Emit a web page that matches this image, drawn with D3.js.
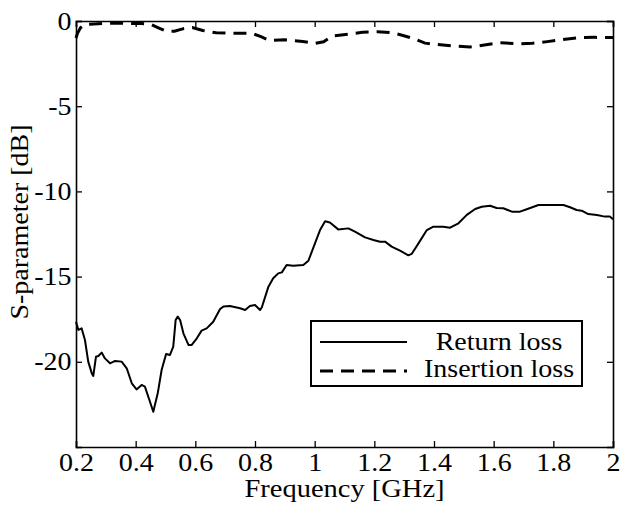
<!DOCTYPE html>
<html>
<head>
<meta charset="utf-8">
<script src="https://cdn.jsdelivr.net/npm/d3@7/dist/d3.min.js"></script>
<style>
  body { margin: 0; background: #fff; }
  text { font-family: "Liberation Serif", "Times New Roman", "DejaVu Serif", serif; fill: #000; }
</style>
</head>
<body>
<div id="chart"></div>
<script>
// return loss (solid)
var freqReturn = [0.2, 0.208, 0.219, 0.23, 0.241, 0.253, 0.258, 0.267, 0.275, 0.286, 0.297, 0.314,
  0.331, 0.353, 0.37, 0.387, 0.403, 0.42, 0.431, 0.446, 0.459, 0.474, 0.487, 0.502, 0.515, 0.526,
  0.534, 0.541, 0.549, 0.56, 0.577, 0.588, 0.605, 0.621, 0.638, 0.66, 0.683, 0.694, 0.716, 0.75,
  0.767, 0.783, 0.8, 0.817, 0.823, 0.845, 0.861, 0.878, 0.89, 0.906, 0.928, 0.962, 0.979, 1.001,
  1.018, 1.035, 1.051, 1.079, 1.113, 1.135, 1.169, 1.197, 1.219, 1.236, 1.258, 1.286, 1.314, 1.325,
  1.348, 1.376, 1.398, 1.431, 1.454, 1.482, 1.51, 1.538, 1.56, 1.588, 1.61, 1.632, 1.661, 1.688,
  1.711, 1.75, 1.789, 1.834, 1.856, 1.878, 1.895, 1.917, 1.946, 1.973, 1.99, 2.0];
var returnLoss = [-17.65, -18.13, -18.04, -18.72, -19.99, -20.68, -20.83, -19.7, -19.66, -19.46, -19.8, -20.09,
  -19.95, -19.99, -20.38, -21.26, -21.62, -21.36, -21.46, -22.24, -22.93, -21.85, -20.48, -19.54, -19.6, -19.11,
  -17.55, -17.35, -17.55, -18.33, -19.01, -19.01, -18.62, -18.17, -18.04, -17.65, -16.9, -16.76, -16.73, -16.86,
  -16.96, -16.73, -16.67, -16.96, -16.8, -15.59, -15.1, -14.81, -14.75, -14.32, -14.36, -14.32, -14.07, -13.05,
  -12.27, -11.75, -11.83, -12.23, -12.17, -12.36, -12.7, -12.85, -12.95, -12.95, -13.24, -13.48, -13.75, -13.67,
  -13.05, -12.27, -12.07, -12.07, -12.13, -11.87, -11.38, -11.03, -10.9, -10.84, -10.97, -10.99, -11.19, -11.19,
  -11.05, -10.8, -10.8, -10.8, -10.93, -11.09, -11.13, -11.33, -11.38, -11.48, -11.48, -11.64];

// insertion loss (dashed)
var freqInsertion = [0.2, 0.205, 0.215, 0.23, 0.26, 0.3, 0.34, 0.38, 0.42, 0.45, 0.48, 0.505, 0.53,
  0.56, 0.59, 0.625, 0.67, 0.72, 0.79, 0.82, 0.85, 0.9, 0.96, 1.0, 1.03, 1.06, 1.12, 1.16, 1.21, 1.26,
  1.29, 1.33, 1.37, 1.41, 1.46, 1.52, 1.58, 1.62, 1.68, 1.73, 1.78, 1.84, 1.89, 1.94, 2.0];
var insertionLoss = [-1.0, -0.72, -0.4, -0.2, -0.18, -0.14, -0.12, -0.14, -0.15, -0.2, -0.43, -0.62, -0.6,
  -0.45, -0.38, -0.56, -0.69, -0.72, -0.72, -0.92, -1.15, -1.1, -1.2, -1.32, -1.22, -0.88, -0.76, -0.66, -0.63, -0.69,
  -0.82, -1.02, -1.3, -1.38, -1.46, -1.53, -1.38, -1.27, -1.34, -1.31, -1.21, -1.07, -0.97, -0.96, -0.97];

var xTicks = [0.2, 0.4, 0.6, 0.8, 1, 1.2, 1.4, 1.6, 1.8, 2];
var yTicks = [0, -5, -10, -15, -20];
var legendLabels = ["Return loss", "Insertion loss"];

var width = 622,
  height = 508,
  plotLeft = 76,
  plotRight = 613,
  plotTop = 21,
  plotBottom = 447,
  stretch = 1.12; // the scanned type is a bit wider than Times

var svg = d3
  .select("#chart")
  .append("svg")
  .attr("width", width)
  .attr("height", height);

svg.append("rect").attr("width", width).attr("height", height).attr("fill", "#fff");

var x = d3.scaleLinear().domain([0.2, 2]).range([plotLeft, plotRight]);
var y = d3.scaleLinear().domain([-25, 0]).range([plotBottom, plotTop]);

//axes with inward ticks on all four sides
var fmt = function(d) { return String(d); };

var gx = svg
  .append("g")
  .attr("transform", "translate(0," + plotBottom + ")")
  .call(d3.axisBottom(x).tickValues(xTicks).tickSize(-6).tickPadding(6).tickFormat(fmt));

var gy = svg
  .append("g")
  .attr("transform", "translate(" + plotLeft + ",0)")
  .call(d3.axisLeft(y).tickValues(yTicks).tickSize(-6).tickPadding(4).tickFormat(fmt));

var gt = svg
  .append("g")
  .attr("transform", "translate(0," + plotTop + ")")
  .call(d3.axisTop(x).tickValues(xTicks).tickSize(-6).tickFormat(""));

var gr = svg
  .append("g")
  .attr("transform", "translate(" + plotRight + ",0)")
  .call(d3.axisRight(y).tickValues(yTicks).tickSize(-6).tickFormat(""));

[gx, gy, gt, gr].forEach(function(g) {
  g.attr("font-family", null);
  g.select(".domain").attr("stroke", "#000").attr("stroke-width", 1.6);
  g.selectAll(".tick line").attr("stroke", "#000").attr("stroke-width", 1.3);
  g.selectAll(".tick text")
    .style("font-size", "25px")
    .attr("fill", "#000")
    .attr("transform", "scale(" + stretch + ",1)");
});

//curves
var line = d3
  .line()
  .x(function(d) { return x(d[0]); })
  .y(function(d) { return y(d[1]); });

svg
  .append("path")
  .datum(d3.zip(freqReturn, returnLoss))
  .attr("fill", "none")
  .attr("stroke", "#000")
  .attr("stroke-width", 2)
  .attr("stroke-linejoin", "round")
  .attr("d", line);

svg
  .append("path")
  .datum(d3.zip(freqInsertion, insertionLoss))
  .attr("fill", "none")
  .attr("stroke", "#000")
  .attr("stroke-width", 3)
  .attr("stroke-dasharray", "13,8")
  .attr("d", line);

//axis titles
svg
  .append("text")
  .attr("transform", "translate(" + (plotLeft + plotRight) / 2 + ",497) scale(" + (stretch + 0.02) + ",1)")
  .attr("text-anchor", "middle")
  .attr("font-size", "25px")
  .text("Frequency [GHz]");

svg
  .append("text")
  .attr("transform", "translate(28,222) rotate(-90) scale(" + stretch + ",1)")
  .attr("text-anchor", "middle")
  .attr("font-size", "25px")
  .text("S-parameter [dB]");

//legend
var legend = svg.append("g");
legend
  .append("rect")
  .attr("x", 311)
  .attr("y", 321)
  .attr("width", 271)
  .attr("height", 65)
  .attr("fill", "#fff")
  .attr("stroke", "#000")
  .attr("stroke-width", 2);

legendLabels.forEach(function(label, i) {
  var ly = 342 + i * 29;
  legend
    .append("line")
    .attr("x1", 320)
    .attr("x2", 407)
    .attr("y1", ly)
    .attr("y2", ly)
    .attr("stroke", "#000")
    .attr("stroke-width", i == 0 ? 2 : 3)
    .attr("stroke-dasharray", i == 0 ? null : "13,8");
  legend
    .append("text")
    .attr("transform", "translate(499," + (i == 0 ? 350 : 377) + ") scale(" + stretch + ",1)")
    .attr("text-anchor", "middle")
    .attr("font-size", "25px")
    .text(label);
});
</script>
</body>
</html>
